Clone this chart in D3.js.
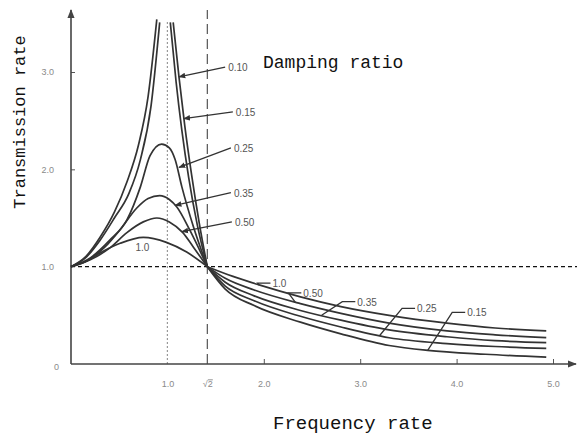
<!DOCTYPE html>
<html>
  <head>
    <meta charset="utf-8">
    <script src="https://d3js.org/d3.v7.min.js"></script>
    <style>
      body { margin: 0; background: #fff; }
      .tick text { fill: #8a8a8a; font-family: "Liberation Sans", Arial, sans-serif; font-size: 9px; }
      .tick line { stroke: #555; }
      .title { font-family: "Courier New", "Liberation Mono", monospace; fill: #111; }
      .ratio { font-family: "Liberation Sans", Arial, sans-serif; font-size: 10px; fill: #555; }
    </style>
  </head>
  <body>
    <div class="visual"></div>
    <script>
      // damping ratio curves, [frequency rate, transmission rate]
      let curve010Left = [[0, 1], [0.15, 1.10], [0.3, 1.30], [0.45, 1.56], [0.58, 1.87], [0.70, 2.25], [0.80, 2.75], [0.89, 3.54]];
      let curve010Right = [[1.06, 3.51], [1.12, 2.95], [1.18, 2.45], [1.25, 1.95], [1.33, 1.45], [1.414, 1.0]];
      let curve015Left = [[0, 1], [0.15, 1.09], [0.3, 1.27], [0.45, 1.50], [0.6, 1.75], [0.72, 2.10], [0.83, 2.65], [0.92, 3.51]];
      let curve015Right = [[1.03, 3.51], [1.09, 2.90], [1.15, 2.40], [1.22, 1.92], [1.31, 1.43], [1.414, 1.0],
                           [1.6, 0.77], [1.9, 0.60], [2.38, 0.43], [2.8, 0.31], [3.3, 0.19], [3.7, 0.14], [4.3, 0.10], [4.93, 0.07]];
      let curve025 = [[0, 1], [0.2, 1.09], [0.4, 1.27], [0.58, 1.48], [0.72, 1.82], [0.82, 2.14], [0.94, 2.26], [1.02, 2.22],
                      [1.08, 2.10], [1.15, 1.82], [1.27, 1.41], [1.414, 1], [1.6, 0.80], [1.9, 0.65], [2.38, 0.49],
                      [2.8, 0.38], [3.3, 0.27], [3.9, 0.21], [4.4, 0.18], [4.93, 0.16]];
      let curve035 = [[0, 1], [0.2, 1.08], [0.35, 1.2], [0.51, 1.38], [0.68, 1.60], [0.8, 1.70], [0.92, 1.73], [1.02, 1.69],
                      [1.10, 1.61], [1.23, 1.38], [1.414, 1], [1.6, 0.84], [1.9, 0.70], [2.38, 0.55], [2.8, 0.45],
                      [3.3, 0.35], [3.9, 0.28], [4.4, 0.24], [4.93, 0.22]];
      let curve050 = [[0, 1], [0.2, 1.07], [0.4, 1.19], [0.58, 1.35], [0.75, 1.46], [0.89, 1.50], [1.02, 1.46], [1.16, 1.35],
                      [1.27, 1.20], [1.414, 1], [1.6, 0.88], [1.9, 0.76], [2.38, 0.62], [2.8, 0.52], [3.3, 0.42],
                      [3.9, 0.34], [4.4, 0.30], [4.93, 0.27]];
      let curve100 = [[0, 1], [0.15, 1.05], [0.3, 1.14], [0.51, 1.24], [0.75, 1.30], [0.99, 1.25], [1.2, 1.15], [1.414, 1.0],
                      [1.68, 0.90], [1.96, 0.81], [2.38, 0.69], [2.8, 0.59], [3.3, 0.50], [3.9, 0.42], [4.4, 0.37], [4.93, 0.34]];

      let xTickValues = [1.0, Math.SQRT2, 2, 3, 4, 5];
      let xTickLabels = ['1.0', '√2', '2.0', '3.0', '4.0', '5.0'];
      let yTickValues = [0, 1, 2, 3];
      let yTickLabels = ['0', '1.0', '2.0', '3.0'];

      // labels with arrows (upper part): label, label anchor, arrow tip
      let arrowLabels = [
        {name: '0.10', at: [1.63, 3.01], tip: [1.12, 2.95]},
        {name: '0.15', at: [1.71, 2.55], tip: [1.17, 2.52]},
        {name: '0.25', at: [1.69, 2.18], tip: [1.12, 2.02]},
        {name: '0.35', at: [1.69, 1.72], tip: [1.08, 1.63]},
        {name: '0.50', at: [1.70, 1.42], tip: [1.15, 1.36]}
      ];
      // labels with hooks (lower part)
      let hookLabels = [
        {name: '1.0', at: [2.09, 0.79], tip: [1.95, 0.81]},
        {name: '0.50', at: [2.41, 0.69], tip: [2.33, 0.63]},
        {name: '0.35', at: [2.97, 0.60], tip: [2.60, 0.50]},
        {name: '0.25', at: [3.59, 0.53], tip: [3.20, 0.29]},
        {name: '0.15', at: [4.11, 0.49], tip: [3.70, 0.14]}
      ];

      let width = 577;
      let height = 437;

      let svg = d3.select('.visual').append('svg')
        .attr('width', width)
        .attr('height', height);

      let x = d3.scaleLinear().domain([0, 5]).range([71, 553]);
      let y = d3.scaleLinear().domain([0, 3]).range([364, 72]);

      let defs = svg.append('defs');
      defs.append('marker')
        .attr('id', 'axisArrow')
        .attr('viewBox', '0 0 10 10')
        .attr('refX', 9).attr('refY', 5)
        .attr('markerWidth', 9).attr('markerHeight', 9)
        .attr('markerUnits', 'userSpaceOnUse')
        .attr('orient', 'auto')
        .append('path').attr('d', 'M0,1 L10,5 L0,9 z').attr('fill', '#444');
      defs.append('marker')
        .attr('id', 'tipArrow')
        .attr('viewBox', '0 0 10 10')
        .attr('refX', 9).attr('refY', 5)
        .attr('markerWidth', 7).attr('markerHeight', 7)
        .attr('markerUnits', 'userSpaceOnUse')
        .attr('orient', 'auto')
        .append('path').attr('d', 'M0,1 L10,5 L0,9 z').attr('fill', '#333');

      // reference lines
      svg.append('line')
        .attr('x1', x(1)).attr('x2', x(1))
        .attr('y1', y(0)).attr('y2', 20)
        .attr('stroke', '#999').attr('stroke-width', 1.2)
        .attr('stroke-dasharray', '2,2');
      svg.append('line')
        .attr('x1', x(Math.SQRT2)).attr('x2', x(Math.SQRT2))
        .attr('y1', y(0)).attr('y2', 10)
        .attr('stroke', '#555').attr('stroke-width', 1.2)
        .attr('stroke-dasharray', '10,5');
      svg.append('line')
        .attr('x1', x(0)).attr('x2', width)
        .attr('y1', y(1)).attr('y2', y(1))
        .attr('stroke', '#111').attr('stroke-width', 1.4)
        .attr('stroke-dasharray', '4,3');

      // axes
      let xAxis = svg.append('g')
        .attr('transform', 'translate(0,' + y(0) + ')')
        .call(d3.axisBottom(x).tickValues(xTickValues)
          .tickFormat((d, i) => xTickLabels[i]).tickSize(-5).tickPadding(17));
      xAxis.select('.domain').remove();
      xAxis.selectAll('.tick').filter(d => d < 1.5).select('line').remove();
      // radical with a bar over the 2
      let rootLabel = xAxis.selectAll('.tick').filter(d => d == Math.SQRT2).select('text');
      rootLabel.text('√');
      rootLabel.append('tspan').attr('text-decoration', 'overline').text('2 ');

      let yAxis = svg.append('g')
        .attr('transform', 'translate(' + x(0) + ',0)')
        .call(d3.axisLeft(y).tickValues(yTickValues)
          .tickFormat((d, i) => yTickLabels[i]).tickSize(-4).tickPadding(17));
      yAxis.select('.domain').remove();
      yAxis.selectAll('.tick').filter(d => d < 1.5).select('line').remove();
      yAxis.selectAll('.tick').filter(d => d == 0).select('text').attr('dy', '0.6em').attr('x', -12);

      svg.append('line')
        .attr('x1', x(0)).attr('x2', width - 1)
        .attr('y1', y(0)).attr('y2', y(0))
        .attr('stroke', '#444').attr('stroke-width', 1.6)
        .attr('marker-end', 'url(#axisArrow)');
      svg.append('line')
        .attr('x1', x(0)).attr('x2', x(0))
        .attr('y1', y(0)).attr('y2', 10)
        .attr('stroke', '#444').attr('stroke-width', 1.6)
        .attr('marker-end', 'url(#axisArrow)');

      // curves: drawn in two pieces so they meet sharply at sqrt(2)
      let line = d3.line()
        .x(d => x(d[0]))
        .y(d => y(d[1]))
        .curve(d3.curveMonotoneX);

      let curves = [curve010Left, curve010Right, curve015Left, curve015Right, curve025, curve035, curve050, curve100];
      let pieces = [];
      curves.forEach(c => {
        let head = c.filter(d => d[0] <= 1.414);
        let tail = c.filter(d => d[0] >= 1.414);
        if (head.length > 1) pieces.push(head);
        if (tail.length > 1) pieces.push(tail);
      });

      svg.selectAll('.curve')
        .data(pieces)
        .enter().append('path')
        .attr('class', 'curve')
        .attr('d', line)
        .attr('fill', 'none')
        .attr('stroke', '#333')
        .attr('stroke-width', 1.7);

      // labels with arrows
      svg.selectAll('.arrowLeader')
        .data(arrowLabels)
        .enter().append('line')
        .attr('x1', d => x(d.at[0]) - 3)
        .attr('y1', d => y(d.at[1]) - 4)
        .attr('x2', d => x(d.tip[0]))
        .attr('y2', d => y(d.tip[1]))
        .attr('stroke', '#333')
        .attr('stroke-width', 1.3)
        .attr('marker-end', 'url(#tipArrow)');

      svg.selectAll('.arrowText')
        .data(arrowLabels)
        .enter().append('text')
        .attr('class', 'ratio')
        .attr('x', d => x(d.at[0]))
        .attr('y', d => y(d.at[1]))
        .text(d => d.name);

      // labels with hooks
      svg.selectAll('.hookLeader')
        .data(hookLabels)
        .enter().append('polyline')
        .attr('points', d => {
          let lx = x(d.at[0]) - 2;
          let ly = y(d.at[1]) - 4;
          return [[lx, ly], [lx - 13, ly], [x(d.tip[0]), y(d.tip[1])]].join(' ');
        })
        .attr('fill', 'none')
        .attr('stroke', '#333')
        .attr('stroke-width', 1.3);

      svg.selectAll('.hookText')
        .data(hookLabels)
        .enter().append('text')
        .attr('class', 'ratio')
        .attr('x', d => x(d.at[0]))
        .attr('y', d => y(d.at[1]))
        .text(d => d.name);

      svg.append('text')
        .attr('class', 'ratio')
        .attr('x', x(0.74))
        .attr('y', y(1.16))
        .attr('text-anchor', 'middle')
        .text('1.0');

      // titles
      svg.append('text')
        .attr('class', 'title')
        .attr('x', 263).attr('y', 68)
        .attr('font-size', 18)
        .text('Damping ratio');
      svg.append('text')
        .attr('class', 'title')
        .attr('x', 273).attr('y', 429)
        .attr('font-size', 19)
        .text('Frequency rate');
      svg.append('text')
        .attr('class', 'title')
        .attr('transform', 'translate(25,122) rotate(-90)')
        .attr('text-anchor', 'middle')
        .attr('font-size', 17)
        .text('Transmission rate');
    </script>
  </body>
</html>
